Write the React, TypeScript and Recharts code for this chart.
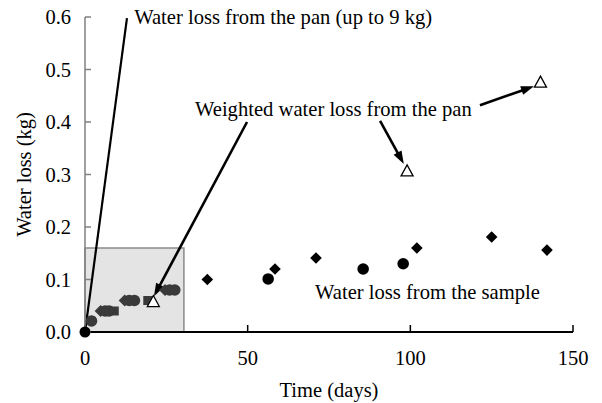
import React from 'react';
import {
  ScatterChart,
  Scatter,
  XAxis,
  YAxis,
  ReferenceArea,
  ReferenceLine,
  ReferenceDot,
  Label,
} from 'recharts';

// ---- data ----
const xTicks = [0, 50, 100, 150];
const yTicks = [0, 0.1, 0.2, 0.3, 0.4, 0.5, 0.6];

const originPoint = [{ day: 0, loss: 0 }];
const earlyCircles = [
  { day: 2, loss: 0.021 },
  { day: 6.2, loss: 0.04 },
  { day: 7.4, loss: 0.04 },
  { day: 13.6, loss: 0.06 },
  { day: 15.2, loss: 0.06 },
  { day: 26.0, loss: 0.08 },
  { day: 27.6, loss: 0.08 },
];
const earlyDiamonds = [
  { day: 4.8, loss: 0.04 },
  { day: 12.2, loss: 0.06 },
  { day: 24.6, loss: 0.08 },
];
const earlySquares = [
  { day: 9.0, loss: 0.04 },
  { day: 19.3, loss: 0.06 },
];
const lateCircles = [
  { day: 56.3, loss: 0.101 },
  { day: 85.5, loss: 0.12 },
  { day: 97.8, loss: 0.13 },
];
const lateDiamonds = [
  { day: 37.6, loss: 0.1 },
  { day: 58.4, loss: 0.12 },
  { day: 71.0, loss: 0.141 },
  { day: 102.0, loss: 0.16 },
  { day: 125.0, loss: 0.181 },
  { day: 142.0, loss: 0.156 },
];
const panTriangles = [
  { day: 21.0, loss: 0.058 },
  { day: 99.0, loss: 0.307 },
  { day: 140.0, loss: 0.476 },
];

// inset box (zoomed region)
const boxX = [0, 30.4];
const boxY = [0, 0.16];

// pan line (up to 9 kg) and arrows: [fromX, fromY, toX, toY]
const panLine = [0, 0, 12.9, 0.598];
const arrows = [
  [49.8, 0.4, 21.2, 0.068],
  [90.7, 0.402, 98.0, 0.32],
  [121.4, 0.432, 138.0, 0.468],
];

// annotations: [x, y, text]
const annotations: [number, number, string][] = [
  [15.1, 0.586, 'Water loss from the pan (up to 9 kg)'],
  [33.8, 0.411, 'Weighted water loss from the pan'],
  [70.7, 0.063, 'Water loss from the sample'],
];

const FONT = 'Liberation Serif, Times New Roman, serif';
const DARK = '#3a3a3a';

const circleShape = (r: number, fill: string) => (p: any) => (
  <circle cx={p.cx} cy={p.cy} r={r} fill={fill} />
);
const diamondShape = (h: number, fill: string) => (p: any) => (
  <polygon
    points={`${p.cx},${p.cy - h} ${p.cx + h},${p.cy} ${p.cx},${p.cy + h} ${p.cx - h},${p.cy}`}
    fill={fill}
  />
);
const squareShape = (h: number, fill: string) => (p: any) => (
  <rect x={p.cx - h} y={p.cy - h} width={2 * h} height={2 * h} fill={fill} />
);
const triangleShape = (p: any) => (
  <polygon
    points={`${p.cx},${p.cy - 6} ${p.cx + 6},${p.cy + 5} ${p.cx - 6},${p.cy + 5}`}
    fill="#fff"
    stroke="#000"
    strokeWidth={1.3}
  />
);

const plainLine = (p: any) => (
  <line x1={p.x1} y1={p.y1} x2={p.x2} y2={p.y2} stroke="#000" strokeWidth={2.2} />
);

const arrowShape = (p: any) => {
  const { x1, y1, x2, y2 } = p;
  const dx = x2 - x1;
  const dy = y2 - y1;
  const len = Math.hypot(dx, dy) || 1;
  const ux = dx / len;
  const uy = dy / len;
  const hl = 13;
  const hw = 4.5;
  const bx = x2 - ux * hl;
  const by = y2 - uy * hl;
  return (
    <g>
      <line x1={x1} y1={y1} x2={bx + ux * 2} y2={by + uy * 2} stroke="#000" strokeWidth={2.6} />
      <polygon
        points={`${x2},${y2} ${bx - uy * hw},${by + ux * hw} ${bx + uy * hw},${by - ux * hw}`}
        fill="#000"
      />
    </g>
  );
};

const textShape = (label: string) => (p: any) => (
  <text x={p.cx} y={p.cy} fontFamily={FONT} fontSize={20.6} fill="#000">
    {label}
  </text>
);

export default function App() {
  return (
    <div style={{ position: 'fixed', left: 0, top: 0, background: '#fff' }}>
      <ScatterChart
        width={602}
        height={403}
        margin={{ top: 17, right: 29, bottom: 0, left: 0 }}
      >
        <XAxis
          type="number"
          dataKey="day"
          domain={[0, 150]}
          ticks={xTicks}
          height={71}
          tickSize={-7}
          tickMargin={25}
          axisLine={{ stroke: '#000', strokeWidth: 2 }}
          tickLine={{ stroke: '#000', strokeWidth: 1.5 }}
          tick={{ fontSize: 20.5, fill: '#000', fontFamily: FONT }}
          interval={0}
        >
          <Label
            value="Time (days)"
            position="insideBottom"
            offset={6}
            style={{ fontSize: 20.5, fill: '#000', fontFamily: FONT }}
          />
        </XAxis>
        <YAxis
          type="number"
          dataKey="loss"
          domain={[0, 0.6]}
          ticks={yTicks}
          width={85}
          tickSize={-6}
          tickMargin={20}
          tickFormatter={(v: number) => v.toFixed(1)}
          axisLine={{ stroke: '#808080', strokeWidth: 1.5 }}
          tickLine={{ stroke: '#808080', strokeWidth: 1.5 }}
          tick={{ fontSize: 20.5, fill: '#000', fontFamily: FONT }}
          interval={0}
        >
          <Label
            value="Water loss (kg)"
            angle={-90}
            position="insideLeft"
            offset={24}
            style={{ fontSize: 20.5, fill: '#000', fontFamily: FONT, textAnchor: 'middle' }}
          />
        </YAxis>

        <ReferenceArea
          x1={boxX[0]}
          x2={boxX[1]}
          y1={boxY[0]}
          y2={boxY[1]}
          fill="#e4e4e4"
          fillOpacity={1}
          stroke="#8a8a8a"
          strokeWidth={1.5}
        />

        <Scatter data={earlyCircles} dataKey="loss" shape={circleShape(5.8, DARK)} isAnimationActive={false} />
        <Scatter data={earlyDiamonds} dataKey="loss" shape={diamondShape(6, DARK)} isAnimationActive={false} />
        <Scatter data={earlySquares} dataKey="loss" shape={squareShape(4.5, DARK)} isAnimationActive={false} />
        <Scatter data={lateCircles} dataKey="loss" shape={circleShape(5.8, '#000')} isAnimationActive={false} />
        <Scatter data={lateDiamonds} dataKey="loss" shape={diamondShape(5.8, '#000')} isAnimationActive={false} />
        <Scatter data={originPoint} dataKey="loss" shape={circleShape(5.5, '#000')} isAnimationActive={false} />
        <Scatter data={panTriangles} dataKey="loss" shape={triangleShape} isAnimationActive={false} />

        <ReferenceLine
          segment={[
            { x: panLine[0], y: panLine[1] },
            { x: panLine[2], y: panLine[3] },
          ]}
          shape={plainLine}
          ifOverflow="visible"
        />
        {arrows.map((a, i) => (
          <ReferenceLine
            key={`arr${i}`}
            segment={[
              { x: a[0], y: a[1] },
              { x: a[2], y: a[3] },
            ]}
            shape={arrowShape}
            ifOverflow="visible"
          />
        ))}
        {annotations.map((a, i) => (
          <ReferenceDot
            key={`ann${i}`}
            x={a[0]}
            y={a[1]}
            r={0}
            shape={textShape(a[2])}
            ifOverflow="visible"
          />
        ))}
      </ScatterChart>
    </div>
  );
}
